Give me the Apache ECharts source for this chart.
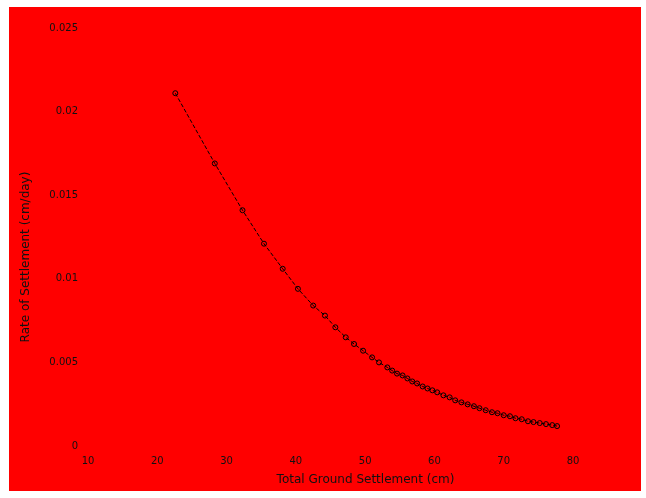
<!DOCTYPE html>
<html><head><meta charset="utf-8">
<script src="https://cdn.jsdelivr.net/npm/echarts@6/dist/echarts.min.js"></script>
<style>
html,body{margin:0;padding:0;background:#fff;width:646px;height:498px;overflow:hidden}
#c{position:absolute;left:9px;top:7px;width:632px;height:484px}
</style></head><body>
<div id="c"></div>
<script>
const settlement = [22.6,28.3,32.3,35.4,38.1,40.3,42.5,44.2,45.7,47.2,48.4,49.7,51.0,52.0,53.2,
 53.9,54.6,55.4,56.1,56.8,57.5,58.3,59.0,59.7,60.4,61.3,62.2,63.0,63.9,64.8,65.7,66.5,67.4,68.3,69.1,70.0,70.9,71.7,72.6,73.5,74.3,75.2,76.1,77.0,77.7];
const rate = [0.0211,0.0169,0.0141,0.0121,0.0106,0.0094,0.0084,0.0078,0.0071,0.0065,0.0061,0.0057,0.0053,0.0050,0.0047,
 0.00451,0.00433,0.00422,0.00404,0.00386,0.00374,0.00356,0.00344,0.00333,0.00321,0.00303,0.00291,0.00273,0.00261,0.00249,0.00238,0.00226,0.00214,0.00202,0.00196,0.00184,0.00178,0.00166,0.00160,0.00148,0.00143,0.00137,0.00131,0.00125,0.00119];
const xTicks = {min:10,max:80,interval:10};
const yTicks = {min:0,max:0.025,interval:0.005};
const chart = echarts.init(document.getElementById('c'));
chart.setOption({
  backgroundColor:'#ff0000',
  animation:false,
  grid:{left:79,right:68,top:21,bottom:42},
  xAxis:{type:'value',min:xTicks.min,max:xTicks.max,interval:xTicks.interval,
    name:'Total Ground Settlement (cm)',nameLocation:'middle',nameGap:28,
    nameTextStyle:{color:'#111',fontSize:12,fontFamily:'DejaVu Sans',padding:[0,0,0,70]},
    axisLine:{show:false},axisTick:{show:false},splitLine:{show:false},
    axisLabel:{color:'#111',fontSize:10,fontFamily:'DejaVu Sans',margin:10}},
  yAxis:{type:'value',min:yTicks.min,max:yTicks.max,interval:yTicks.interval,
    name:'Rate of Settlement (cm/day)',nameLocation:'middle',nameGap:56,
    nameTextStyle:{color:'#111',fontSize:12,fontFamily:'DejaVu Sans',padding:[0,40,0,0]},
    axisLine:{show:false},axisTick:{show:false},splitLine:{show:false},
    axisLabel:{color:'#111',fontSize:10,fontFamily:'DejaVu Sans',margin:10}},
  series:[{type:'line',data:settlement.map((x,i)=>[x,rate[i]]),
    symbol:'circle',symbolSize:5,
    lineStyle:{color:'#000',width:1,type:'dashed'},
    itemStyle:{color:'transparent',borderColor:'#000',borderWidth:1}}]
});
</script></body></html>
